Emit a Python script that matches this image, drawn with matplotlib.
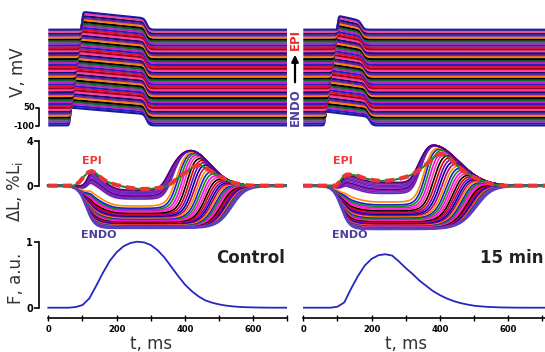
import numpy as np
import matplotlib.pyplot as plt

plt.rcParams['font.family'] = 'DejaVu Sans'

W, H = 545, 352
MS_PX = 0.3417                     # pixels per ms on the time axis
LEFT0, RIGHT0 = 48.3, 303.3        # pixel x of t = 0 in the two columns
SPINE_X = 39.3                     # pixel x of the left scale bars

conditions = ['Control', '15 min']
time_ticks = [0, 100, 200, 300, 400, 500, 600, 700]
time_ticklabels = ['0', '', '200', '', '400', '', '600', '']

# Ca transients (F, a.u.)
f_time = [0, 60, 80, 100, 120, 140, 160, 180, 200, 220, 240, 260, 280, 300, 320, 340,
          360, 380, 400, 420, 440, 460, 480, 500, 520, 540, 560, 580, 620, 660, 710]
f_control = [0, 0, 0.01, 0.04, 0.14, 0.33, 0.53, 0.71, 0.84, 0.93, 0.98, 1.0, 0.99, 0.95, 0.87, 0.76,
             0.62, 0.48, 0.35, 0.25, 0.17, 0.11, 0.075, 0.05, 0.032, 0.02, 0.012, 0.007, 0.002, 0, 0]
f_15min = [0, 0, 0, 0.015, 0.08, 0.29, 0.48, 0.64, 0.74, 0.795, 0.81, 0.79, 0.70, 0.60, 0.51, 0.41,
           0.33, 0.25, 0.19, 0.14, 0.10, 0.07, 0.048, 0.03, 0.02, 0.012, 0.008, 0.004, 0.001, 0, 0]

# EPI segment length change (dashed trace), % of Li
epi_time_ctrl = [0, 75, 90, 105, 117, 127, 140, 155, 171, 195, 220, 245, 268, 300, 327, 346, 366, 385,
                 405, 425, 444, 463, 483, 502, 522, 541, 561, 580, 600, 700]
epi_dl_ctrl = [0, 0, 0.3, 0.85, 1.2, 1.31, 1.1, 0.7, 0.36, 0.1, -0.09, -0.22, -0.3, -0.28, -0.18, -0.05,
               0.36, 0.85, 1.25, 1.7, 1.85, 1.55, 1.1, 0.8, 0.51, 0.28, 0.12, 0.04, 0, 0]
epi_time_15 = [0, 95, 105, 115, 127, 140, 160, 175, 200, 224, 245, 263, 285, 302, 318, 332, 350, 368,
               385, 400, 415, 430, 445, 460, 478, 497, 517, 537, 556, 575, 595, 710]
epi_dl_15 = [0, 0, 0.3, 0.75, 1.0, 0.98, 0.88, 0.7, 0.52, 0.42, 0.44, 0.51, 0.65, 0.8, 1.0, 1.25, 1.65,
             2.15, 2.6, 2.85, 2.75, 2.4, 1.95, 1.5, 1.1, 0.78, 0.51, 0.28, 0.1, 0.03, 0, 0]

# action potential stack, endo -> epi (ms, mV)
n_traces = 50
v_rest = -95
v_step = 16.0
ap_upstroke = [(63, 100), (63, 102)]
ap_repol = [(288, 288), (195, 171)]
ap_amp = [(146, 93), (114, 72)]

# segment length family (endo -> epi)
hump_amp = [1.41, 0.84]
hump_sd = [(12, 33), (12, 35)]
epi_level = [-0.3, 0.42]
endo_level = [-3.75, -3.85]
env_peak = [3.15, 3.65]
env_time = [415, 378]
env_sd = [(60, 58), (43, 75)]
relax_band = [(342, 358), (318, 334)]
relax_mid = [370, 349]
relax_endo = [539, 513]
relax_w_endo = [20, 24]

v_colors = ['#e01030', '#2020c8', '#c020c0', '#106a30', '#000000', '#ff8000', '#7020a0',
            '#101070', '#ff40a0', '#a00020']
v_edge = '#1c1c9a'
dl_colors = ['#ff8c00', '#1f1fd0', '#109010', '#ff00ff', '#ff3399', '#000000', '#e00000',
             '#8000c0', '#0000a0', '#c00060']
band_colors = ['#7a1fb0', '#5a2fc0', '#9a20a0', '#4b0082', '#8a2be2']


def sigmoid(x):
    return 1.0 / (1.0 + np.exp(-x))


def agauss(t, t0, sl, sr):
    s = np.where(t < t0, sl, sr)
    return np.exp(-0.5 * ((t - t0) / s) ** 2)


def px_axes(fig, x0, y0, x1, y1):
    ax = fig.add_axes([x0 / W, 1 - y1 / H, (x1 - x0) / W, (y1 - y0) / H])
    ax.patch.set_visible(False)
    return ax


def dl_traces(k, t):
    early_epi = (hump_amp[k] * agauss(t, 127, *hump_sd[k])
                 + epi_level[k] * sigmoid((t - 140) / 25) * sigmoid((t - 100) / 6))
    early_endo = endo_level[k] * sigmoid((t - 112) / 12)
    late = env_peak[k] * agauss(t, env_time[k], *env_sd[k])

    def one(m, tr, w):
        r = sigmoid((t - tr) / w)
        return ((1 - m) * early_epi + m * early_endo) * (1 - r) + late * r

    out = []
    for i in range(39):
        u = i / 38
        tr = relax_endo[k] - (relax_endo[k] - relax_mid[k] - 6) * u ** 1.8
        w = relax_w_endo[k] - (relax_w_endo[k] - 14) * u
        out.append((one(1 - 0.5 * u ** 2.5, tr, w), dl_colors[(39 - i) % len(dl_colors)]))
    out.append((one(0.44, relax_mid[k], 14), dl_colors[0]))
    for j in range(9):
        tr = relax_band[k][1] - (relax_band[k][1] - relax_band[k][0]) * j / 8
        out.append((one(0.26 - 0.23 * j / 8, tr, 13), band_colors[j % len(band_colors)]))
    return out


fig = plt.figure(figsize=(W / 100, H / 100), dpi=100)

mv_px = 150 / 18.3
t = np.arange(0, 712, 0.5)
f_data = [f_control, f_15min]
epi_data = [(epi_time_ctrl, epi_dl_ctrl), (epi_time_15, epi_dl_15)]

for k, x0 in enumerate([LEFT0, RIGHT0]):
    x1 = 287.5 if k == 0 else 545
    tmax = (x1 - x0) / MS_PX
    tmin = -(x0 - SPINE_X) / MS_PX if k == 0 else 0
    xa = SPINE_X if k == 0 else x0

    # --- action potentials ---
    axv = px_axes(fig, x0, 6, x1, 130)
    axv.set_xlim(0, tmax)
    axv.set_ylim(-100 - 4 * mv_px, -100 + 120 * mv_px)
    for sp in axv.spines.values():
        sp.set_visible(False)
    axv.set_xticks([])
    axv.set_yticks([])
    up0, up1 = ap_upstroke[k]
    rp0, rp1 = ap_repol[k]
    a0, a1 = ap_amp[k]
    for i in range(n_traces):
        s = i / (n_traces - 1)
        tu = up0 + (up1 - up0) * s
        tr = rp0 + (rp1 - rp0) * s
        frac = np.clip((t - tu) / (tr - tu), 0, 1)
        amp = a0 + (a1 - a0) * frac
        v = v_rest + i * v_step + amp * sigmoid((t - tu) / 1.2) * (1 - sigmoid((t - tr) / 4))
        col = v_edge if i in (0, n_traces - 1) else v_colors[i % len(v_colors)]
        axv.plot(t, v, color=col, lw=1.6, solid_capstyle='butt')
    if k == 0:
        # 150 mV scale bracket
        axv.plot([-36, -25.8, -25.8, -36], [50, 50, -100, -100], color='k', lw=1.2, clip_on=False)
        axv.text(-39, 50, '50', ha='right', va='center', fontsize=6, fontweight='bold')
        axv.text(-39, -100, '-100', ha='right', va='center', fontsize=6, fontweight='bold')
        axv.set_ylabel('V, mV', fontsize=12, color='#333333')
        axv.yaxis.set_label_coords(-0.089, 0.47)

    # --- segment length ---
    axl = px_axes(fig, xa, 136, x1, 236)
    axl.set_xlim(tmin, tmax)
    axl.set_ylim(-(236 - 185.7) / 11.18, (185.7 - 136) / 11.18)
    family = dl_traces(k, t)
    for dl, col in family:
        axl.plot(t, dl, color=col, lw=1.2)
    axl.plot(t, family[0][0], color='#5b3fbf', lw=2.2)   # ENDO edge
    et, ed = epi_data[k]
    axl.plot(et, ed, color='#1a8a2a', lw=1.5)
    axl.plot(et, ed, color='#ee3535', lw=3, dashes=(2.2, 1.3))
    axl.text(127 if k == 0 else 116, 2.24, 'EPI', color='#f03a3a', fontsize=8,
             fontweight='bold', ha='center', va='center')
    axl.text(148 if k == 0 else 137, -4.4, 'ENDO', color='#4a3f9f', fontsize=8,
             fontweight='bold', ha='center', va='center', clip_on=False, zorder=5)
    for sp in axl.spines.values():
        sp.set_visible(False)
    axl.set_xticks([])
    if k == 0:
        axl.spines['left'].set_visible(True)
        axl.spines['left'].set_bounds(0, 4)
        axl.spines['left'].set_linewidth(1.2)
        axl.set_yticks([0, 4], ['0', '4'], fontsize=7, fontweight='bold')
        axl.tick_params(axis='y', length=3.5, width=1.2, pad=1)
        axl.set_ylabel(r'$\Delta$L, %L$_\mathrm{i}$', fontsize=12, color='#333333')
        axl.yaxis.set_label_coords(-0.058, 0.44)
    else:
        axl.set_yticks([])

    # --- Ca transient ---
    axf = px_axes(fig, xa, 236, x1, 317.7)
    axf.set_xlim(tmin, tmax)
    axf.set_ylim(-(317.7 - 307.7) / 66, (307.7 - 236) / 66)
    axf.plot(f_time, f_data[k], color='#2626c0', lw=1.3)
    for sp in ['top', 'right']:
        axf.spines[sp].set_visible(False)
    axf.spines['bottom'].set_bounds(0, tmax)
    axf.spines['bottom'].set_linewidth(1.2)
    axf.set_xticks(time_ticks, time_ticklabels, fontsize=6, fontweight='bold')
    axf.tick_params(axis='x', direction='inout', length=4, width=1, pad=3)
    axf.set_xlabel('t, ms', fontsize=12, color='#333333')
    axf.xaxis.set_label_coords((300 - tmin) / (tmax - tmin), -0.215)
    if k == 0:
        axf.spines['left'].set_bounds(0, 1)
        axf.spines['left'].set_linewidth(1.2)
        axf.set_yticks([0, 1], ['0', '1'], fontsize=7, fontweight='bold')
        axf.tick_params(axis='y', length=3.5, width=1.2, pad=1)
        axf.set_ylabel('F, a.u.', fontsize=12, color='#333333')
        axf.yaxis.set_label_coords(-0.058, 0.486)
    else:
        axf.spines['left'].set_visible(False)
        axf.set_yticks([])
    axf.text(592 if k == 0 else 610, 0.76, conditions[k], fontsize=12, fontweight='bold',
             color='#222222', ha='center', va='center')

# ENDO -> EPI marker between the AP stacks
fig.text(295 / W, 1 - 107 / H, 'ENDO', rotation=90, color='#4a3f9f', fontsize=8.5,
         fontweight='bold', ha='center', va='center')
fig.text(295 / W, 1 - 40 / H, 'EPI', rotation=90, color='#ee2a2a', fontsize=8.5,
         fontweight='bold', ha='center', va='center')
fig.add_artist(plt.Annotation('', xy=(295 / W, 1 - 52 / H), xytext=(295 / W, 1 - 85 / H),
                              xycoords='figure fraction',
                              arrowprops=dict(arrowstyle='-|>', color='k', lw=1.6,
                                              mutation_scale=10)))

fig.savefig('out.png', dpi=100)
